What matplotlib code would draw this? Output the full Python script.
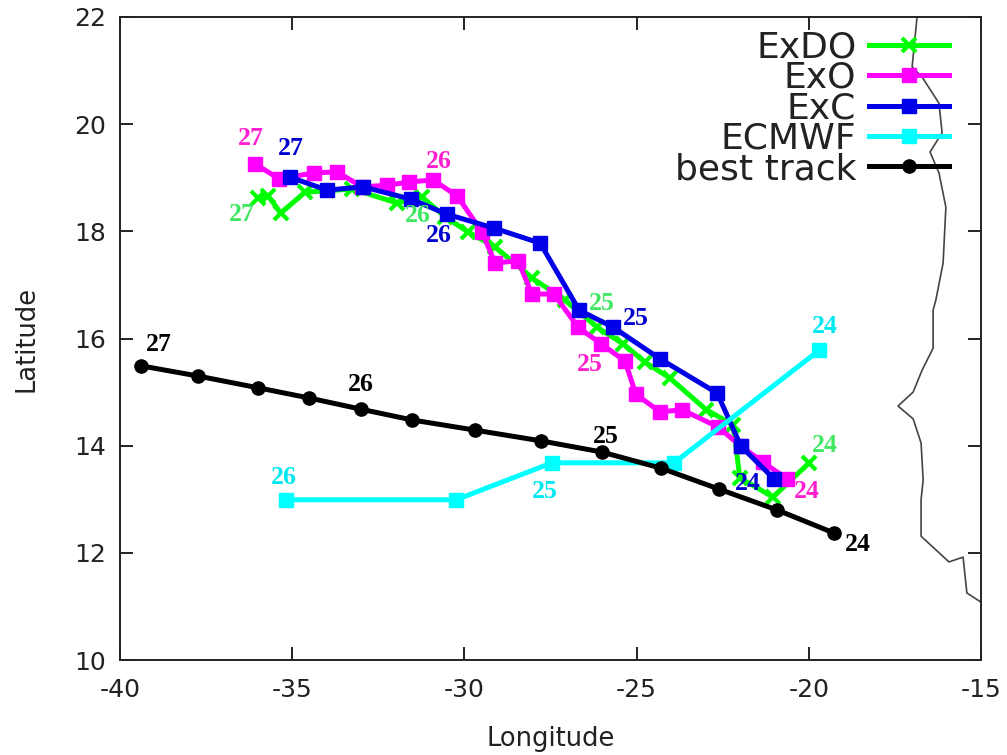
import matplotlib
matplotlib.use('Agg')
import matplotlib.pyplot as plt

plt.rcParams['axes.unicode_minus'] = False

best_lon = [-39.39, -37.74, -35.99, -34.51, -33.0, -31.52, -29.69, -27.78, -26.0, -24.29, -22.61, -20.92, -19.27]
best_lat = [15.49, 15.30, 15.08, 14.89, 14.68, 14.48, 14.29, 14.09, 13.88, 13.58, 13.19, 12.80, 12.37]

ecmwf_lon = [-35.18, -30.24, -27.46, -23.91, -19.70]
ecmwf_lat = [12.99, 12.99, 13.68, 13.68, 15.78]

exc_lon = [-35.06, -33.99, -32.94, -31.55, -30.51, -29.14, -27.80, -26.67, -25.68, -24.32, -22.66, -21.97, -21.01]
exc_lat = [19.01, 18.77, 18.83, 18.60, 18.32, 18.06, 17.78, 16.53, 16.21, 15.62, 14.98, 13.99, 13.38]

exo_lon = [-36.08, -35.38, -34.37, -33.70, -32.97, -32.25, -31.61, -30.91, -30.21, -29.49, -29.11, -28.44,
           -28.04, -27.40, -26.70, -26.03, -25.34, -25.02, -24.32, -23.68, -22.64, -21.97, -21.33, -20.63]
exo_lat = [19.26, 18.98, 19.09, 19.11, 18.83, 18.86, 18.92, 18.96, 18.66, 17.99, 17.41, 17.45,
           16.83, 16.83, 16.21, 15.90, 15.58, 14.96, 14.63, 14.67, 14.35, 13.99, 13.69, 13.38]

exdo_lon = [-35.99, -35.70, -35.33, -34.63, -33.26, -31.96, -31.23, -30.56, -29.90, -29.11, -28.04, -27.08,
            -26.15, -25.39, -24.76, -24.03, -22.98, -22.20, -22.0, -21.04, -19.99]
exdo_lat = [18.62, 18.66, 18.34, 18.73, 18.79, 18.53, 18.64, 18.27, 17.99, 17.71, 17.13, 16.72,
            16.21, 15.90, 15.56, 15.26, 14.67, 14.39, 13.40, 13.04, 13.68]

coast_lon = [-16.86, -17.0, -16.71, -16.22, -16.13, -16.48, -16.22, -16.02, -16.10, -16.31, -16.39, -16.39,
             -16.71, -16.97, -17.41, -16.97, -16.74, -16.68, -16.74, -16.74, -15.93, -15.52, -15.41, -15.0]
coast_lat = [21.98, 21.07, 20.88, 20.39, 19.84, 19.48, 19.09, 18.45, 17.41, 16.72, 16.53, 15.82,
             15.41, 15.0, 14.74, 14.50, 14.05, 13.36, 12.99, 12.31, 11.83, 11.92, 11.25, 11.08]

# day labels: text, lon, lat, colour
day_labels = [
    ('27', -36.46, 18.32, '#3fe860'), ('27', -36.2, 19.74, '#ff1fd0'), ('27', -35.03, 19.54, '#0000d0'),
    ('26', -30.74, 19.31, '#ff1fd0'), ('26', -31.35, 18.30, '#3fe860'), ('26', -30.74, 17.93, '#0000d0'),
    ('25', -26.0, 16.66, '#3fe860'), ('25', -25.02, 16.38, '#0000d0'), ('25', -26.35, 15.52, '#ff1fd0'),
    ('27', -38.87, 15.88, 'black'), ('26', -33.0, 15.15, 'black'), ('25', -25.89, 14.18, 'black'),
    ('24', -19.53, 16.23, '#00e8f0'), ('26', -35.24, 13.40, '#00e8f0'), ('25', -27.66, 13.15, '#00e8f0'),
    ('24', -19.53, 14.01, '#3fe860'), ('24', -21.76, 13.30, '#0000d0'), ('24', -20.05, 13.15, '#ff1fd0'),
    ('24', -18.57, 12.16, 'black'),
]

fig = plt.figure(figsize=(10.07, 7.55), dpi=100)
ax = fig.add_axes([120 / 1007, 1 - 660 / 755, (981 - 120) / 1007, (660 - 17) / 755])

ax.plot(coast_lon, coast_lat, color='#444444', lw=1.2)
ax.plot(exdo_lon, exdo_lat, color='#00ff00', lw=3.6, marker='x', ms=10, mew=3, label='ExDO')
ax.plot(exo_lon, exo_lat, color='#ff00ff', lw=3.6, marker='s', ms=10.5, label='ExO')
ax.plot(exc_lon, exc_lat, color='#0000e8', lw=3.6, marker='s', ms=10.5, label='ExC')
ax.plot(ecmwf_lon, ecmwf_lat, color='#00ffff', lw=3.6, marker='s', ms=10.5, label='ECMWF')
ax.plot(best_lon, best_lat, color='black', lw=3.6, marker='o', ms=9.5, label='best track')

for txt, x, y, c in day_labels:
    ax.text(x, y, txt, color=c, fontsize=18.5, fontweight='bold', family='Liberation Serif',
            ha='center', va='center')

ax.set_xlim(-40, -15)
ax.set_ylim(10, 22)
ax.set_xticks([-40, -35, -30, -25, -20, -15])
ax.set_yticks([10, 12, 14, 16, 18, 20, 22])
ax.tick_params(direction='in', top=True, right=True, length=9.5, width=1.4, labelsize=18, color='#222222',
               labelcolor='#222222')
ax.tick_params(axis='x', pad=13)
ax.tick_params(axis='y', pad=10)
ax.set_xlabel('Longitude', fontsize=18.5, labelpad=17, color='#222222')
ax.set_ylabel('Latitude', fontsize=18.5, labelpad=25, color='#222222')
for s in ax.spines.values():
    s.set_linewidth(1.4)
    s.set_color('#222222')

ax.legend(loc='upper right', bbox_to_anchor=(0.9625, 0.979), borderaxespad=0, borderpad=0,
          frameon=False, fontsize=26, labelcolor='#222222', markerfirst=False, handlelength=2.2,
          handletextpad=0.36, labelspacing=-0.10, numpoints=1)

plt.savefig('out.png', dpi=100)
plt.close()
